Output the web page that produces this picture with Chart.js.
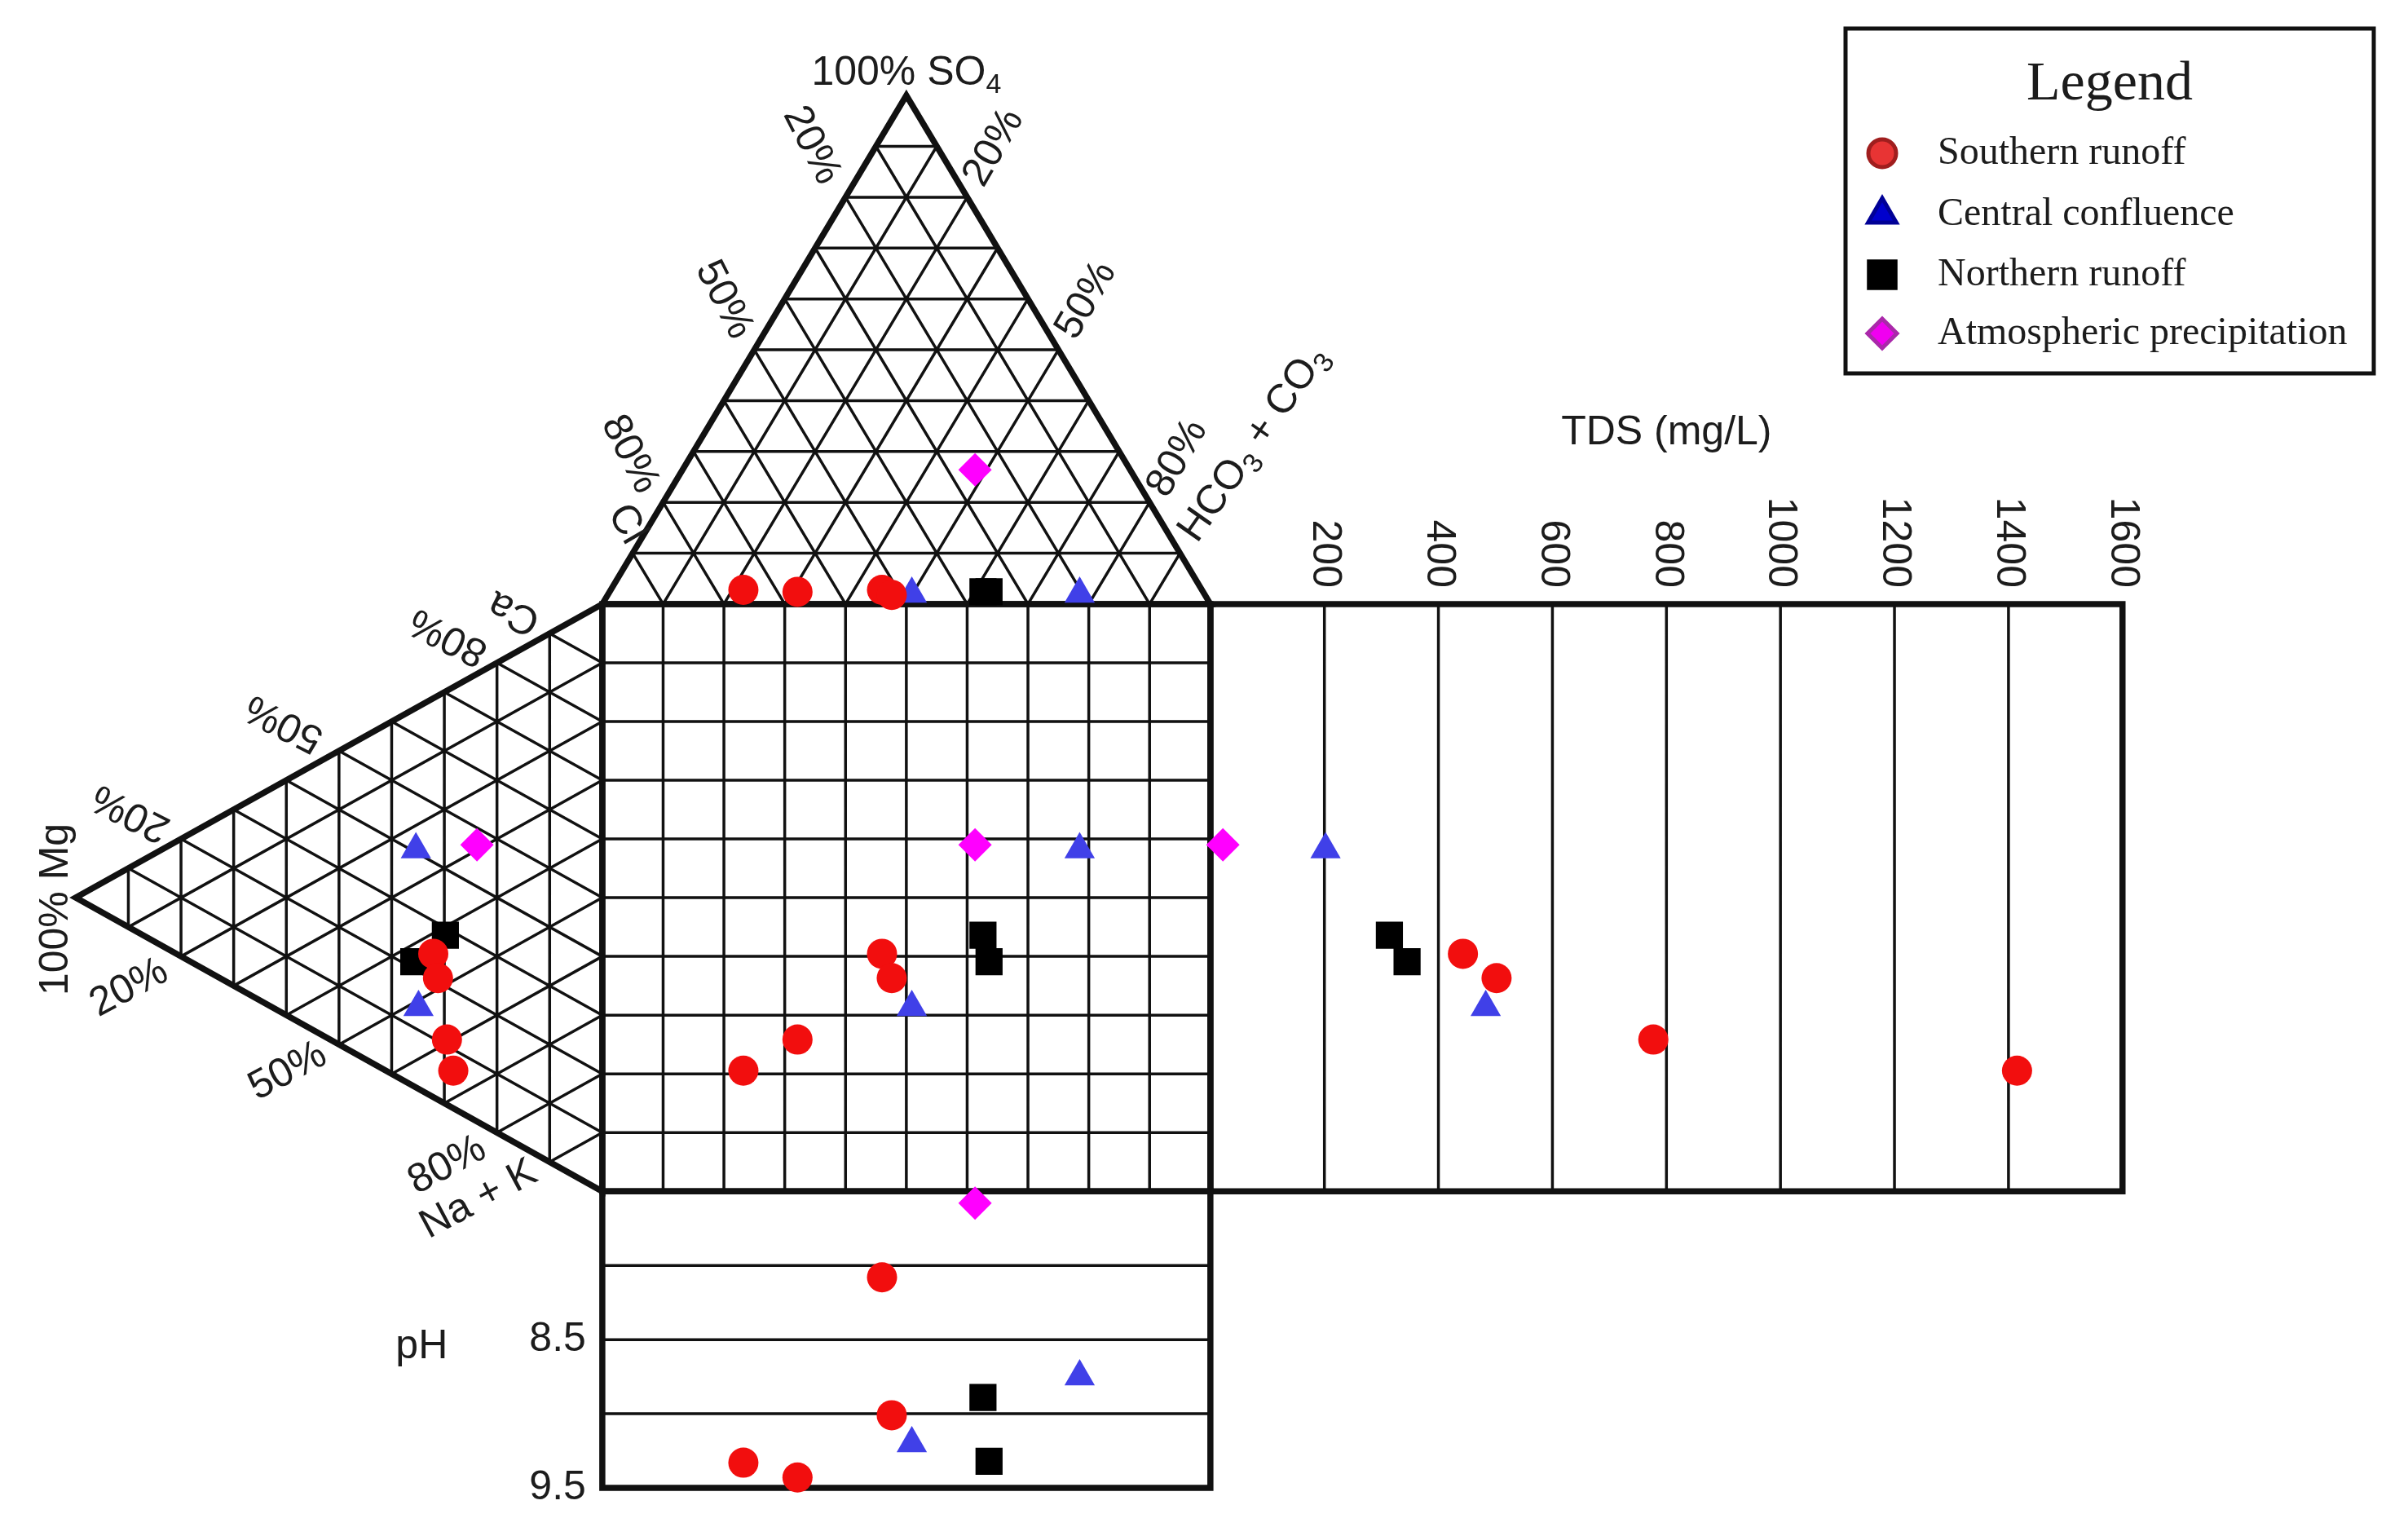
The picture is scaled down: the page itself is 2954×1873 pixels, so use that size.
<!DOCTYPE html>
<html>
<head>
<meta charset="utf-8">
<script src="https://cdn.jsdelivr.net/npm/chart.js@4.4.1/dist/chart.umd.min.js"></script>
<style>
html,body{margin:0;padding:0;background:#fff;overflow:hidden}
canvas{display:block}
</style>
</head>
<body>
<canvas id="c" width="2954" height="1873"></canvas>
<script>
// ================= DATA =================
const groupNames = ['Southern runoff', 'Central confluence', 'Northern runoff', 'Atmospheric precipitation'];

// Southern runoff (4 samples) — anions % (SO4, Cl, HCO3+CO3), cations % (Ca, Mg, Na+K), TDS mg/L, pH
const southernSO4  = [2.8, 1.8, 2.4, 2.8];
const southernCl   = [52.6, 51.5, 66.7, 75.4];
const southernHCO3 = [44.6, 46.7, 30.9, 21.8];
const southernCa   = [24.4, 20.7, 11.1, 6.4];
const southernMg   = [32.1, 31.2, 29.5, 28.3];
const southernNaK  = [43.5, 48.1, 59.4, 65.3];
const southernTDS  = [443, 502, 777, 1415];
const southernPH   = [8.08, 9.01, 9.43, 9.33];

// Central confluence (2 samples)
const centralSO4  = [2.0, 2.0];
const centralCl   = [20.5, 48.1];
const centralHCO3 = [77.5, 49.9];
const centralCa   = [40.5, 13.9];
const centralMg   = [35.4, 34.9];
const centralNaK  = [24.1, 51.2];
const centralTDS  = [202, 483];
const centralPH   = [8.75, 9.20];

// Northern runoff (2 samples)
const northernSO4  = [2.4, 2.4];
const northernCl   = [36.2, 35.2];
const northernHCO3 = [61.4, 62.4];
const northernCa   = [28.7, 21.2];
const northernMg   = [29.8, 35.8];
const northernNaK  = [41.5, 43.0];
const northernTDS  = [314, 345];
const northernPH   = [8.89, 9.32];

// Atmospheric precipitation (1 sample)
const precipSO4  = [26.4];
const precipCl   = [25.5];
const precipHCO3 = [48.1];
const precipCa   = [47.1];
const precipMg   = [23.8];
const precipNaK  = [29.1];
const precipTDS  = [22];
const precipPH   = [7.58];

// Axis ticks
const triTickLabels = ['20%', '50%', '80%'];
const tdsTicks = [200, 400, 600, 800, 1000, 1200, 1400, 1600];
const phGrid = [8.0, 8.5, 9.0];
const phTickLabels = [8.5, 9.5];
const TDS_MAX = 1600, PH_MIN = 7.5, PH_MAX = 9.5;

// ================= GEOMETRY (diagram units) =================
const H = Math.sqrt(3) / 2 * 100;   // triangle height in units
const TDS_W = 150.0;                // width of TDS panel (units)
const PH_H = 50.5;                  // height of pH panel (units)
const X_MIN = -95.9, X_MAX = 293.8, Y_MIN = -99.6, Y_MAX = 153.9;

function tdsX(t) { return 100 + t / TDS_MAX * TDS_W; }
function phY(p) { return 100 + (p - PH_MIN) / (PH_MAX - PH_MIN) * PH_H; }

function buildPoints(so4, cl, hco3, ca, mg, nak, tds, ph) {
  const pts = [];
  for (let i = 0; i < so4.length; i++) {
    const aSum = so4[i] + cl[i] + hco3[i];
    const cSum = ca[i] + mg[i] + nak[i];
    const s = so4[i] / aSum * 100, h = hco3[i] / aSum * 100;
    const m = mg[i] / cSum * 100, n = nak[i] / cSum * 100;
    const ax = h + s / 2;           // anion projection
    const cy = n + m / 2;           // cation projection
    pts.push({x: ax, y: -s * H / 100});          // anion triangle
    pts.push({x: -m * H / 100, y: cy});          // cation triangle
    pts.push({x: ax, y: cy});                    // central square
    pts.push({x: tdsX(tds[i]), y: cy});          // TDS panel
    pts.push({x: ax, y: phY(ph[i])});            // pH panel
  }
  return pts;
}

const styles = [
  {style: 'circle',   r: 18.5, color: 'rgb(242,14,14)',  lg: 'rgb(232,52,52)', lgb: 'rgb(160,30,30)', lr: 17},
  {style: 'triangle', r: 21.5, color: 'rgb(64,64,232)',  lg: 'rgb(0,0,205)',   lgb: 'rgb(0,0,150)',   lr: 20},
  {style: 'rect',     r: 23.5, color: 'rgb(0,0,0)',      lg: 'rgb(0,0,0)',     lgb: 'rgb(0,0,0)',     lr: 23},
  {style: 'rectRot',  r: 20.5, color: 'rgb(255,0,255)',  lg: 'rgb(240,0,240)', lgb: 'rgb(170,40,170)',lr: 18}
];

const groupData = [
  buildPoints(southernSO4, southernCl, southernHCO3, southernCa, southernMg, southernNaK, southernTDS, southernPH),
  buildPoints(centralSO4, centralCl, centralHCO3, centralCa, centralMg, centralNaK, centralTDS, centralPH),
  buildPoints(northernSO4, northernCl, northernHCO3, northernCa, northernMg, northernNaK, northernTDS, northernPH),
  buildPoints(precipSO4, precipCl, precipHCO3, precipCa, precipMg, precipNaK, precipTDS, precipPH)
];

const datasets = groupNames.map((name, i) => ({
  label: name,
  data: groupData[i],
  pointStyle: styles[i].style,
  pointRadius: styles[i].r,
  pointHoverRadius: styles[i].r,
  backgroundColor: styles[i].color,
  borderColor: styles[i].color,
  borderWidth: 0,
  showLine: false,
  clip: false
}));

// ================= TEXT LAYOUT =================
const SANS = '"Liberation Sans", Arial, Helvetica, sans-serif';
const SERIF = '"Liberation Serif", "Times New Roman", serif';
const FS = 50;
const TXT = '#1c1c1c';

const edgeLabels = [
  // anion triangle, left edge (Cl)
  {t: triTickLabels[0], u: 34.4, v: -78.1, a: 63},
  {t: triTickLabels[1], u: 20.0, v: -51.8, a: 63},
  {t: triTickLabels[2], u: 4.5,  v: -25.5, a: 63},
  {t: 'Cl',             u: 4.0,  v: -13.6, a: 60},
  // anion triangle, right edge (HCO3 + CO3)
  {t: triTickLabels[0], u: 64.4, v: -77.7, a: -60},
  {t: triTickLabels[1], u: 79.6, v: -51.7, a: -60},
  {t: triTickLabels[2], u: 94.6, v: -24.8, a: -60},
  // cation triangle, upper edge (Ca)
  {t: triTickLabels[0], u: -77.5, v: 35.5, a: 207},
  {t: triTickLabels[1], u: -52.3, v: 20.2, a: 207},
  {t: triTickLabels[2], u: -25.3, v: 5.5,  a: 207},
  {t: 'Ca',             u: -14.5, v: 1.4,  a: 207},
  // cation triangle, lower edge (Na + K)
  {t: triTickLabels[0], u: -77.8, v: 65.4, a: -28},
  {t: triTickLabels[1], u: -51.7, v: 79.6, a: -28},
  {t: triTickLabels[2], u: -25.5, v: 95.6, a: -28},
  {t: 'Na + K',         u: -20.3, v: 101.4, a: -28},
  // Mg apex
  {t: '100% Mg',        u: -89.8, v: 52.0, a: -90}
];

// ================= PLUGINS =================
const durovPlugin = {
  id: 'durov',
  beforeDatasetsDraw(chart) {
    const {ctx, scales: {x, y}} = chart;
    const P = (u, v) => [x.getPixelForValue(u), y.getPixelForValue(v)];
    const seg = (a, b) => {
      const p = P(a[0], a[1]), q = P(b[0], b[1]);
      ctx.moveTo(p[0], p[1]); ctx.lineTo(q[0], q[1]);
    };
    const poly = (pts) => {
      ctx.beginPath();
      pts.forEach((pt, i) => { const p = P(pt[0], pt[1]); if (i) ctx.lineTo(p[0], p[1]); else ctx.moveTo(p[0], p[1]); });
      ctx.closePath(); ctx.stroke();
    };
    ctx.save();
    ctx.strokeStyle = '#111';
    ctx.lineCap = 'butt';
    // ---- thin grid ----
    ctx.lineWidth = 3.5;
    ctx.beginPath();
    for (let i = 1; i < 10; i++) {
      const a = i * 10, t = i / 10;
      // square
      seg([a, 0], [a, 100]);
      seg([0, a], [100, a]);
      // anion triangle
      seg([50 * t, -H * t], [100 - 50 * t, -H * t]);
      seg([a, 0], [a + (100 - a) / 2, -H * (100 - a) / 100]);
      seg([a, 0], [a / 2, -H * a / 100]);
      // cation triangle
      seg([-H * t, 50 * t], [-H * t, 100 - 50 * t]);
      seg([0, a], [-H * (100 - a) / 100, a + (100 - a) / 2]);
      seg([0, a], [-H * a / 100, a / 2]);
    }
    // TDS panel verticals
    tdsTicks.forEach(t => { if (t < TDS_MAX) seg([tdsX(t), 0], [tdsX(t), 100]); });
    // pH panel horizontals
    phGrid.forEach(p => seg([0, phY(p)], [100, phY(p)]));
    ctx.stroke();
    // ---- thick outlines ----
    ctx.lineWidth = 7.5;
    ctx.lineJoin = 'miter';
    poly([[0, 0], [50, -H], [100, 0]]);
    poly([[0, 0], [-H, 50], [0, 100]]);
    poly([[0, 0], [100, 0], [100, 100], [0, 100]]);
    poly([[100, 0], [100 + TDS_W, 0], [100 + TDS_W, 100], [100, 100]]);
    poly([[0, 100], [100, 100], [100, 100 + PH_H], [0, 100 + PH_H]]);
    ctx.restore();

    // ---- texts ----
    ctx.save();
    ctx.fillStyle = TXT;
    ctx.font = FS + 'px ' + SANS;
    ctx.textAlign = 'center';
    ctx.textBaseline = 'middle';
    const rot = (txt, u, v, a) => {
      const p = P(u, v);
      ctx.save(); ctx.translate(p[0], p[1]); ctx.rotate(a * Math.PI / 180);
      ctx.fillText(txt, 0, 0); ctx.restore();
    };
    edgeLabels.forEach(l => rot(l.t, l.u, l.v, l.a));

    // rich text with subscripts, centred on (u,v), rotated
    const rich = (parts, u, v, a) => {
      const p = P(u, v);
      const subF = Math.round(FS * 0.68);
      let w = 0;
      parts.forEach(pt => { ctx.font = (pt[1] ? subF : FS) + 'px ' + SANS; w += ctx.measureText(pt[0]).width; });
      ctx.save(); ctx.translate(p[0], p[1]); ctx.rotate(a * Math.PI / 180);
      ctx.textAlign = 'left';
      let cx = -w / 2;
      parts.forEach(pt => {
        ctx.font = (pt[1] ? subF : FS) + 'px ' + SANS;
        ctx.fillText(pt[0], cx, pt[1] ? FS * 0.3 : 0);
        cx += ctx.measureText(pt[0]).width;
      });
      ctx.restore();
    };
    rich([['100% SO', false], ['4', true]], 50, -90.4, 0);
    rich([['HCO', false], ['3', true], [' + CO', false], ['3', true]], 107.1, -27.3, -55);

    ctx.font = FS + 'px ' + SANS;
    ctx.textAlign = 'center';
    // TDS title
    const tp = P(100 + TDS_W / 2, -29.1);
    ctx.fillText('TDS (mg/L)', tp[0], tp[1]);
    // TDS tick labels (rotated, reading downward)
    tdsTicks.forEach(t => {
      const p = P(tdsX(t), 0);
      ctx.save(); ctx.translate(p[0], p[1] - 20); ctx.rotate(Math.PI / 2);
      ctx.textAlign = 'right'; ctx.fillText(String(t), 0, 0); ctx.restore();
    });
    // pH labels
    const pp = P(-29.7, 126.5);
    ctx.fillText('pH', pp[0], pp[1]);
    ctx.textAlign = 'right';
    phTickLabels.forEach(v => {
      const p = P(0, phY(v));
      ctx.fillText(String(v), p[0] - 20, p[1]);
    });
    ctx.restore();
  },
  afterDraw(chart) {
    const {ctx} = chart;
    ctx.save();
    // legend box
    const bx = 2264, by = 35, bw = 648, bh = 423;
    ctx.fillStyle = '#fff';
    ctx.fillRect(bx, by, bw, bh);
    ctx.lineWidth = 5; ctx.strokeStyle = '#111';
    ctx.strokeRect(bx, by, bw, bh);
    ctx.fillStyle = TXT;
    ctx.textAlign = 'center'; ctx.textBaseline = 'alphabetic';
    ctx.font = '68px ' + SERIF;
    ctx.fillText('Legend', 2588, 122);
    ctx.textAlign = 'left'; ctx.textBaseline = 'middle';
    ctx.font = '48px ' + SERIF;
    const rows = [188, 263, 337, 409];
    groupNames.forEach((name, i) => {
      const st = styles[i];
      ctx.fillStyle = st.lg; ctx.strokeStyle = st.lgb;
      const opts = {pointStyle: st.style, rotation: 0, radius: st.lr, borderWidth: 2};
      if (Chart.helpers && Chart.helpers.drawPoint) {
        Chart.helpers.drawPoint(ctx, opts, 2309, rows[i]);
      }
      ctx.fillStyle = TXT;
      ctx.fillText(name, 2377, rows[i]);
    });
    ctx.restore();
  }
};

new Chart(document.getElementById('c'), {
  type: 'scatter',
  data: {datasets},
  options: {
    responsive: false,
    animation: false,
    devicePixelRatio: 1,
    layout: {padding: 0},
    events: [],
    plugins: {legend: {display: false}, tooltip: {enabled: false}, title: {display: false}},
    scales: {
      x: {type: 'linear', min: X_MIN, max: X_MAX, display: false},
      y: {type: 'linear', min: Y_MIN, max: Y_MAX, reverse: true, display: false}
    }
  },
  plugins: [durovPlugin]
});
</script>
</body>
</html>
